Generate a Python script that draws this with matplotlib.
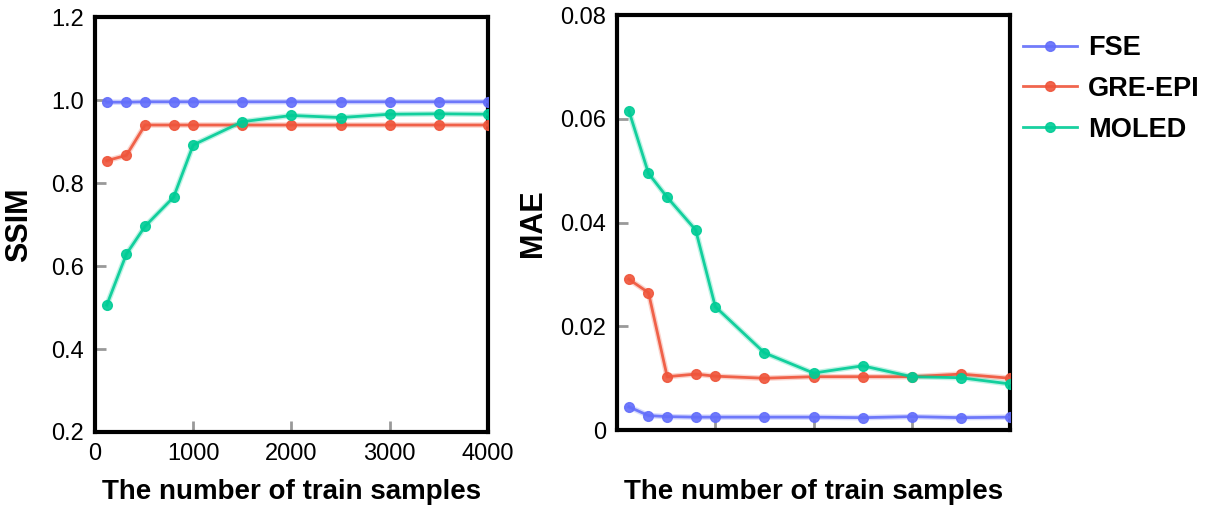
import matplotlib
matplotlib.use('Agg')
import matplotlib.pyplot as plt
from matplotlib.lines import Line2D

plt.rcParams['font.family'] = ['Liberation Sans', 'DejaVu Sans']

# number of train samples
samples = [120, 320, 510, 800, 1000, 1500, 2000, 2500, 3000, 3500, 4000]
methods = ['FSE', 'GRE-EPI', 'MOLED']
colors = ['#636efa', '#ef553b', '#00cc96']

ssim_fse = [0.995, 0.995, 0.996, 0.996, 0.996, 0.996, 0.996, 0.996, 0.996, 0.996, 0.996]
ssim_gre = [0.854, 0.867, 0.940, 0.940, 0.940, 0.940, 0.940, 0.940, 0.940, 0.940, 0.940]
ssim_moled = [0.506, 0.629, 0.696, 0.766, 0.892, 0.948, 0.963, 0.958, 0.966, 0.967, 0.966]

mae_fse = [0.0045, 0.0028, 0.0026, 0.0025, 0.0025, 0.0025, 0.0025, 0.0024, 0.0026, 0.0024, 0.0025]
mae_gre = [0.0291, 0.0265, 0.0103, 0.0108, 0.0104, 0.0100, 0.0103, 0.0103, 0.0103, 0.0108, 0.0100]
mae_moled = [0.0616, 0.0495, 0.0449, 0.0386, 0.0238, 0.0149, 0.0110, 0.0124, 0.0103, 0.0101, 0.0089]

fig = plt.figure(figsize=(12.13, 5.09), dpi=100)
ax1 = fig.add_axes([0.0783, 0.1513, 0.324, 0.815])
ax2 = fig.add_axes([0.5087, 0.155, 0.324, 0.815])

def draw(ax, series, ylab, ylab_x):
    for vals, c in zip(series, colors):
        # soft glow under the line
        ax.plot(samples, vals, color=c, lw=4, alpha=0.25, zorder=2)
        ax.plot(samples, vals, color=c, lw=2, marker='o', ms=7, alpha=0.9, zorder=3)
    ax.set_xlim(0, 4000)
    ax.set_xticks([1000, 2000, 3000])
    for s in ax.spines.values():
        s.set_linewidth(3)
        s.set_color('black')
    ax.tick_params(direction='in', length=8, width=2, color='#999999',
                   labelsize=17, pad=8)
    bb = ax.get_position()
    fig.text((bb.x0 + bb.x1) / 2, 1 - 492 / 509, 'The number of train samples',
             fontsize=20, fontweight='bold', ha='center', va='center')
    ax.set_ylabel(ylab, fontsize=22, fontweight='bold')
    ax.yaxis.set_label_coords(ylab_x, 0.5)

draw(ax1, [ssim_fse, ssim_gre, ssim_moled], 'SSIM', -0.155)
ax1.set_ylim(0.2, 1.2)
ax1.set_yticks([0.2, 0.4, 0.6, 0.8, 1.0, 1.2])
ax1.set_yticklabels(['0.2', '0.4', '0.6', '0.8', '1.0', '1.2'])
ax1.set_xticks([0, 1000, 2000, 3000, 4000])
ax1.set_xticklabels(['0', '1000', '2000', '3000', '4000'])

draw(ax2, [mae_fse, mae_gre, mae_moled], 'MAE', -0.176)
ax2.set_ylim(0, 0.08)
ax2.set_yticks([0, 0.02, 0.04, 0.06, 0.08])
ax2.set_yticklabels(['0', '0.02', '0.04', '0.06', '0.08'])
ax2.set_xticklabels([])

handles = [Line2D([], [], color=c, lw=2, marker='o', ms=7, alpha=0.9) for c in colors]
fig.legend(handles, methods, loc='upper left', bbox_to_anchor=(0.823, 0.979),
           frameon=False, prop={'size': 19.5, 'weight': 'bold'},
           handlelength=2.0, labelspacing=0.55, handletextpad=0.4)

fig.savefig('out.png', dpi=100)
